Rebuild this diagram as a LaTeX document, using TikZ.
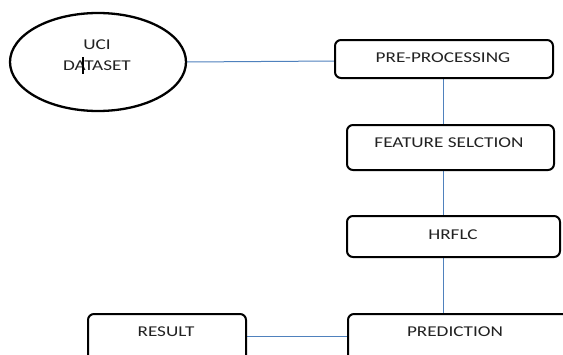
\documentclass[tikz,border=0pt]{standalone}
\usepackage{fontspec}
\setmainfont{Carlito}
\newfontfamily\widefont[FakeStretch=1.28]{Carlito}
\usetikzlibrary{shapes.geometric}
\definecolor{conn}{HTML}{4F81BD}
\definecolor{txt}{HTML}{222222}
\tikzset{
  box/.style={draw=black, line width=2pt, rounded corners=6pt, fill=white},
  lbl/.style={text=txt, font=\widefont\fontsize{15}{17}\selectfont, inner sep=0pt},
  conline/.style={draw=conn, line width=1pt},
}
\begin{document}
\begin{tikzpicture}[x=1pt,y=-1pt]
\useasboundingbox (0,0) rectangle (563,354);
\clip (0,0) rectangle (563,354);
\fill[white] (0,0) rectangle (563,354);
% connectors first
\coordinate (ellr) at (186,62);
\coordinate (prel) at (335,61);
\coordinate (v1a) at (443,78);
\coordinate (v1b) at (443,125);
\coordinate (v2a) at (443,170);
\coordinate (v2b) at (443,216);
\coordinate (v3a) at (443,257);
\coordinate (v3b) at (443,314);
\coordinate (resr) at (246,336);
\coordinate (predl) at (348,336);
\draw[conline] (ellr) -- (prel);
\draw[conline] (v1a) -- (v1b);
\draw[conline] (v2a) -- (v2b);
\draw[conline] (v3a) -- (v3b);
\draw[conline] (resr) -- (predl);
% shapes
\node[draw=black, line width=2.3pt, ellipse, minimum width=176pt, minimum height=98pt, fill=white] (uci) at (98,62) {};
\path[box] (335,40) rectangle (553,78);
\path[box] (347,125) rectangle (554,170);
\path[box] (347,216) rectangle (560,257);
\path[box] (348,314) rectangle (568,370);
\path[box] (88,314) rectangle (246,370);
% labels
\node[lbl] (t1) at (97,45) {UCI};
\node[lbl] (t2) at (97,66) {DATASET};
\draw[black, line width=1.3pt] (83,57) -- (83,74);
\node[lbl] (pre) at (443,58) {PRE-PROCESSING};
\node[lbl] (fs) at (449,143) {FEATURE SELCTION};
\node[lbl] (hr) at (453,235) {HRFLC};
\node[lbl] (pred) at (455,332) {PREDICTION};
\node[lbl] (res) at (166,332) {RESULT};
\end{tikzpicture}
\end{document}
